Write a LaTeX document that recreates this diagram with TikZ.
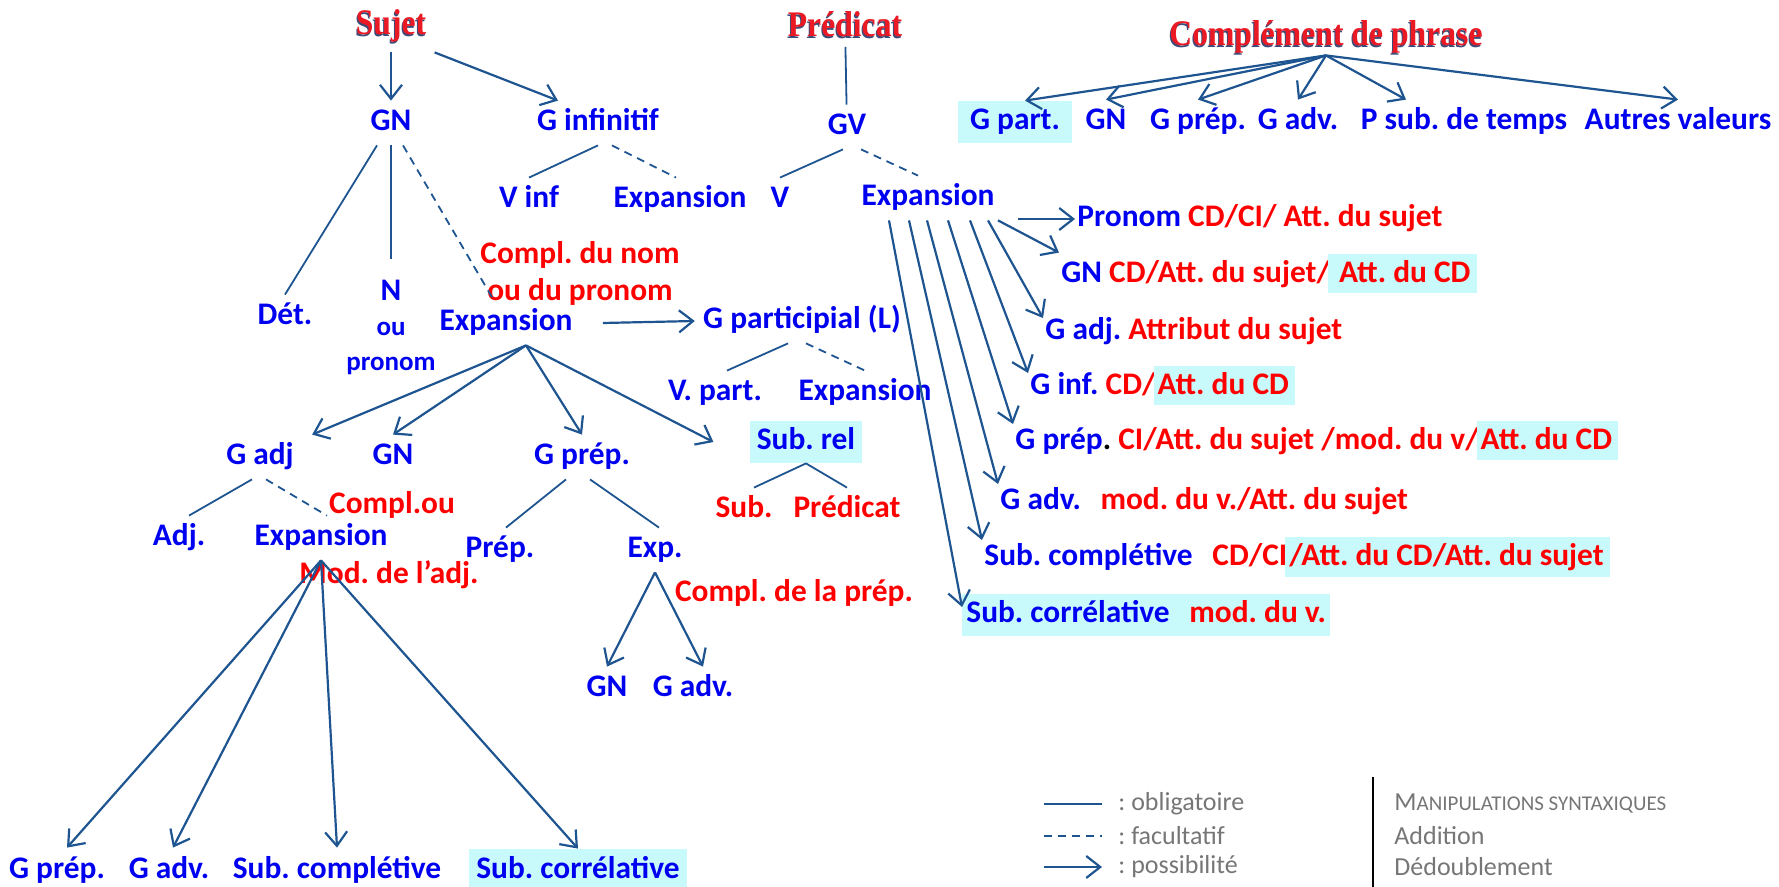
\documentclass[tikz,border=0pt]{standalone}
\usepackage{fontspec}
\setmainfont{Carlito}
\newfontfamily\titlefont[FakeStretch=0.88]{Liberation Serif}
\usetikzlibrary{arrows.meta,calc}
\frenchspacing

\definecolor{grpblue}{RGB}{0,0,240}
\definecolor{fnred}{RGB}{255,0,0}
\definecolor{titlered}{RGB}{235,25,35}
\definecolor{titleshade}{RGB}{60,75,120}
\definecolor{edgeblue}{RGB}{30,85,145}
\definecolor{hlcyan}{RGB}{200,250,252}
\definecolor{keygray}{RGB}{118,118,118}

\newcommand{\fn}[1]{\textcolor{fnred}{#1}}
\newcommand{\hlfn}[1]{{\setlength{\fboxsep}{3pt}\kern-1pt\colorbox{hlcyan}{\kern-1pt\rule[-2pt]{0pt}{13.5pt}\textcolor{fnred}{#1}}}}
\newcommand{\shadowed}[1]{\makebox[0pt][l]{\raisebox{-0.7pt}{\hspace{-0.5pt}\textcolor{titleshade}{#1}}}#1}

\begin{document}
\begin{tikzpicture}[x=0.5pt, y=-0.5pt,
    grp/.style = {font=\fontsize{15.7}{18}\selectfont\bfseries, text=grpblue, inner sep=4pt, text height=11pt, text depth=3pt},
    fnc/.style = {font=\fontsize{15.7}{18.5}\selectfont\bfseries, text=fnred, inner sep=1pt},
    rowlbl/.style = {grp, anchor=west, inner xsep=1pt},
    rolelbl/.style = {font=\titlefont\fontsize{18}{20}\selectfont\bfseries, text=titlered, inner sep=4pt},
    hl/.style = {fill=hlcyan, inner xsep=3.5pt, inner ysep=3.5pt},
    mustline/.style = {draw=edgeblue, line width=0.9pt},
    optline/.style = {mustline, dash pattern=on 4pt off 3pt},
    mayarrow/.style = {draw=edgeblue, line width=1.1pt, -{Straight Barb[length=7pt,width=11pt]}},
    legendtxt/.style = {font=\fontsize{13}{15}\selectfont, text=keygray, anchor=west, inner sep=1pt}]

    \useasboundingbox (0,0) rectangle (1779,887);

    % fonctions
    \node[rolelbl] (sujet) at (391,27) {\shadowed{Sujet}};
    \node[rolelbl] (predicat) at (845,25) {\shadowed{Prédicat}};
    \node[rolelbl] (cphrase) at (1326,38) {\shadowed{Complément de phrase}};

    % sujet
    \node[grp] (gn) at (391,123) {GN};
    \node[grp] (ginf) at (598,123) {G infinitif};
    \node[grp] (vinf) at (529,200) {V inf};
    \node[grp] (expinf) at (680,200) {Expansion};
    \node[fnc, align=center] (complnom) at (580,273) {Compl. du nom\\ou du pronom};
    \node[grp] (det) at (285,317) {Dét.};
    \node[font=\fontsize{13.5}{17.5}\selectfont\bfseries, text=grpblue, align=center] (noyau) at (391,327) {{\fontsize{15.7}{17.5}\selectfont N}\\ou\\pronom};
    \node[grp] (expgn) at (506,323) {Expansion};
    \node[grp] (gpartl) at (802,321) {G participial (L)};
    \node[grp] (vpart) at (715,393) {V. part.};
    \node[grp] (expgp) at (865,393) {Expansion};
    \node[grp, hl] (subrel) at (806,442) {Sub. rel};
    \node[grp, text=fnred] (subs) at (744,510) {Sub.};
    \node[grp, text=fnred] (subpred) at (847,510) {Prédicat};
    \node[grp] (gadj) at (260,457) {G adj};
    \node[grp] (gn2) at (393,457) {GN};
    \node[grp] (gprep) at (582,457) {G prép.};
    \node[fnc] (complou) at (392,505) {Compl.ou};
    \node[grp] (adj) at (179,538) {Adj.};
    \node[grp] (expadj) at (321,538) {Expansion};
    \node[fnc] (modadj) at (389,575) {Mod. de l’adj.};
    \node[grp] (prep) at (500,550) {Prép.};
    \node[grp] (expp) at (655,550) {Exp.};
    \node[fnc] (complprep) at (794,593) {Compl. de la prép.};
    \node[grp] (gn3) at (607,689) {GN};
    \node[grp] (gadv3) at (693,689) {G adv.};
    \node[grp] (bgprep) at (57,870) {G prép.};
    \node[grp] (bgadv) at (169,870) {G adv.};
    \node[grp] (bsubc) at (337,870) {Sub. complétive};
    \node[grp, hl] (bsubcor) at (578,870) {Sub. corrélative};

    % prédicat
    \node[grp] (gv) at (847,127) {GV};
    \node[grp] (v) at (780,200) {V};
    \node[grp] (expgv) at (928,198) {Expansion};
    \node[rowlbl] (pronomr) at (1075,219) {Pronom \fn{CD/CI/ Att. du sujet}};
    \node[rowlbl] (gnr) at (1059,275) {GN \fn{CD/Att. du sujet/}\hlfn{\ Att. du CD}};
    \node[rowlbl] (gadjr) at (1043,332) {G adj. \fn{Attribut du sujet}};
    \node[rowlbl] (ginfr) at (1028,387) {G inf. \fn{CD/}\hlfn{Att. du CD}};
    \node[rowlbl] (gprepr) at (1013,442) {G prép\textcolor{black}{.} \fn{CI/Att. du sujet /mod. du v/}\hlfn{Att. du CD}};
    \node[rowlbl] (gadvr) at (998,502) {G adv.\hspace{.4em} \fn{mod. du v./Att. du sujet}};
    \node[rowlbl] (subcr) at (982,558) {Sub. complétive\hspace{.4em} \fn{CD/CI}\hlfn{/Att. du CD/Att. du sujet}};
    \node[rowlbl, hl, inner xsep=2pt] (subcorr) at (962,615) {Sub. corrélative\hspace{.4em} \fn{mod. du v.}};

    % complément de phrase
    \node[grp, hl, inner xsep=6pt] (gpart) at (1015,122) {G part.};
    \node[grp] (cpgn) at (1106,122) {GN};
    \node[grp] (cpgprep) at (1198,122) {G prép.};
    \node[grp] (cpgadv) at (1298,122) {G adv.};
    \node[grp] (psub) at (1464,122) {P sub. de temps};
    \node[grp] (autres) at (1678,122) {Autres valeurs};

    % liens du sujet
    \draw[mayarrow] (sujet) -- (gn);
    \draw[mayarrow] (sujet.south east) -- ([xshift=-20pt]ginf.north);
    \draw[mustline] ([xshift=-7pt]gn.south) -- (det.north);
    \draw[mustline, shorten >=7pt] (gn.south) -- (noyau.north);
    \draw[optline] ([xshift=6pt]gn.south) -- ([xshift=-6pt]expgn.north);
    \draw[mustline] (ginf.south) -- (vinf.north);
    \draw[optline] ([xshift=7pt]ginf.south) -- ([xshift=-2pt]expinf.north);
    \draw[mayarrow] ([xshift=11pt]expgn.east) -- (gpartl.west);
    \draw[mayarrow] ([xshift=10pt]expgn.south) -- ([xshift=5pt]gadj.north east);
    \draw[mayarrow] ([xshift=10pt]expgn.south) -- (gn2.north);
    \draw[mayarrow] ([xshift=10pt]expgn.south) -- (gprep.north);
    \draw[mayarrow] ([xshift=10pt]expgn.south) -- ([xshift=-18pt]subrel.west);
    \draw[mustline] ([xshift=-7pt]gpartl.south) -- ([xshift=6pt]vpart.north);
    \draw[optline] ([xshift=2pt]gpartl.south) -- (expgp.north);
    \draw[mustline] (subrel.south) -- ([xshift=5pt]subs.north);
    \draw[mustline] (subrel.south) -- (subpred.north);
    \draw[mustline] ([xshift=-4pt]gadj.south) -- ([xshift=5pt]adj.north);
    \draw[optline] ([xshift=3pt]gadj.south) -- ([xshift=3pt]expadj.north);
    \draw[mustline] ([xshift=-8pt]gprep.south) -- ([xshift=3pt]prep.north);
    \draw[mustline] ([xshift=4pt]gprep.south) -- ([xshift=2pt]expp.north);
    \draw[mayarrow] (expp.south) -- (gn3.north);
    \draw[mayarrow] (expp.south) -- ([xshift=5pt]gadv3.north);
    \draw[mayarrow] (expadj.south) -- ([xshift=5pt]bgprep.north);
    \draw[mayarrow] (expadj.south) -- ([xshift=2pt]bgadv.north);
    \draw[mayarrow] (expadj.south) -- (bsubc.north);
    \draw[mayarrow] (expadj.south) -- (bsubcor.north);

    % liens du prédicat
    \draw[mustline] (predicat) -- (gv);
    \draw[mustline] ([xshift=-2pt]gv.south) -- (v.north);
    \draw[optline] ([xshift=7pt]gv.south) -- ([xshift=-5pt]expgv.north);
    \draw[mayarrow] ($(expgv.east |- pronomr.west)+(7.5pt,0)$) -- (pronomr.west);
    \draw[mayarrow] ([xshift=35pt]expgv.south) -- (gnr.north west);
    \draw[mayarrow] ([xshift=30pt]expgv.south) -- ([yshift=7pt]gadjr.west);
    \draw[mayarrow] ([xshift=21pt]expgv.south) -- ([yshift=7pt]ginfr.west);
    \draw[mayarrow] ([xshift=10pt]expgv.south) -- ([yshift=9pt]gprepr.west);
    \draw[mayarrow] ([xshift=-0.5pt]expgv.south) -- ([yshift=9pt]gadvr.west);
    \draw[mayarrow] ([xshift=-9.5pt]expgv.south) -- ([yshift=9pt]subcr.west);
    \draw[mayarrow] ([xshift=-19.5pt]expgv.south) -- ([yshift=4pt]subcorr.west);

    % liens du complément de phrase
    \draw[mayarrow] ([yshift=4pt]cphrase.south) -- ([xshift=5pt]gpart.north);
    \draw[mayarrow] ([yshift=4pt]cphrase.south) -- (cpgn.north);
    \draw[mayarrow] ([yshift=4pt]cphrase.south) -- (cpgprep.north);
    \draw[mayarrow] ([yshift=4pt]cphrase.south) -- (cpgadv.north);
    \draw[mayarrow] ([yshift=4pt]cphrase.south) -- ([xshift=-29pt]psub.north);
    \draw[mayarrow] ([yshift=4pt]cphrase.south) -- (autres.north);

    % légende
    \node[legendtxt] (oblig) at (1116,804) {: obligatoire};
    \node[legendtxt] (facul) at (1116,836) {: facultatif};
    \node[legendtxt] (possib) at (1116,867) {: possibilité};
    \draw[mustline] ([xshift=-36pt]oblig.west) -- ([xshift=-7pt]oblig.west);
    \draw[optline] ([xshift=-36pt]facul.west) -- ([xshift=-7pt]facul.west);
    \draw[mayarrow] ([xshift=-36pt]possib.west) -- ([xshift=-7pt]possib.west);
    \draw[line width=1pt] (1373,777) -- (1373,887);
    \node[legendtxt] (manip) at (1392,804) {M{\fontsize{10.5}{15}\selectfont ANIPULATIONS SYNTAXIQUES}};
    \node[legendtxt] (addition) at (1392,836) {Addition};
    \node[legendtxt] (dedoubl) at (1392,867) {Dédoublement};
\end{tikzpicture}
\end{document}
